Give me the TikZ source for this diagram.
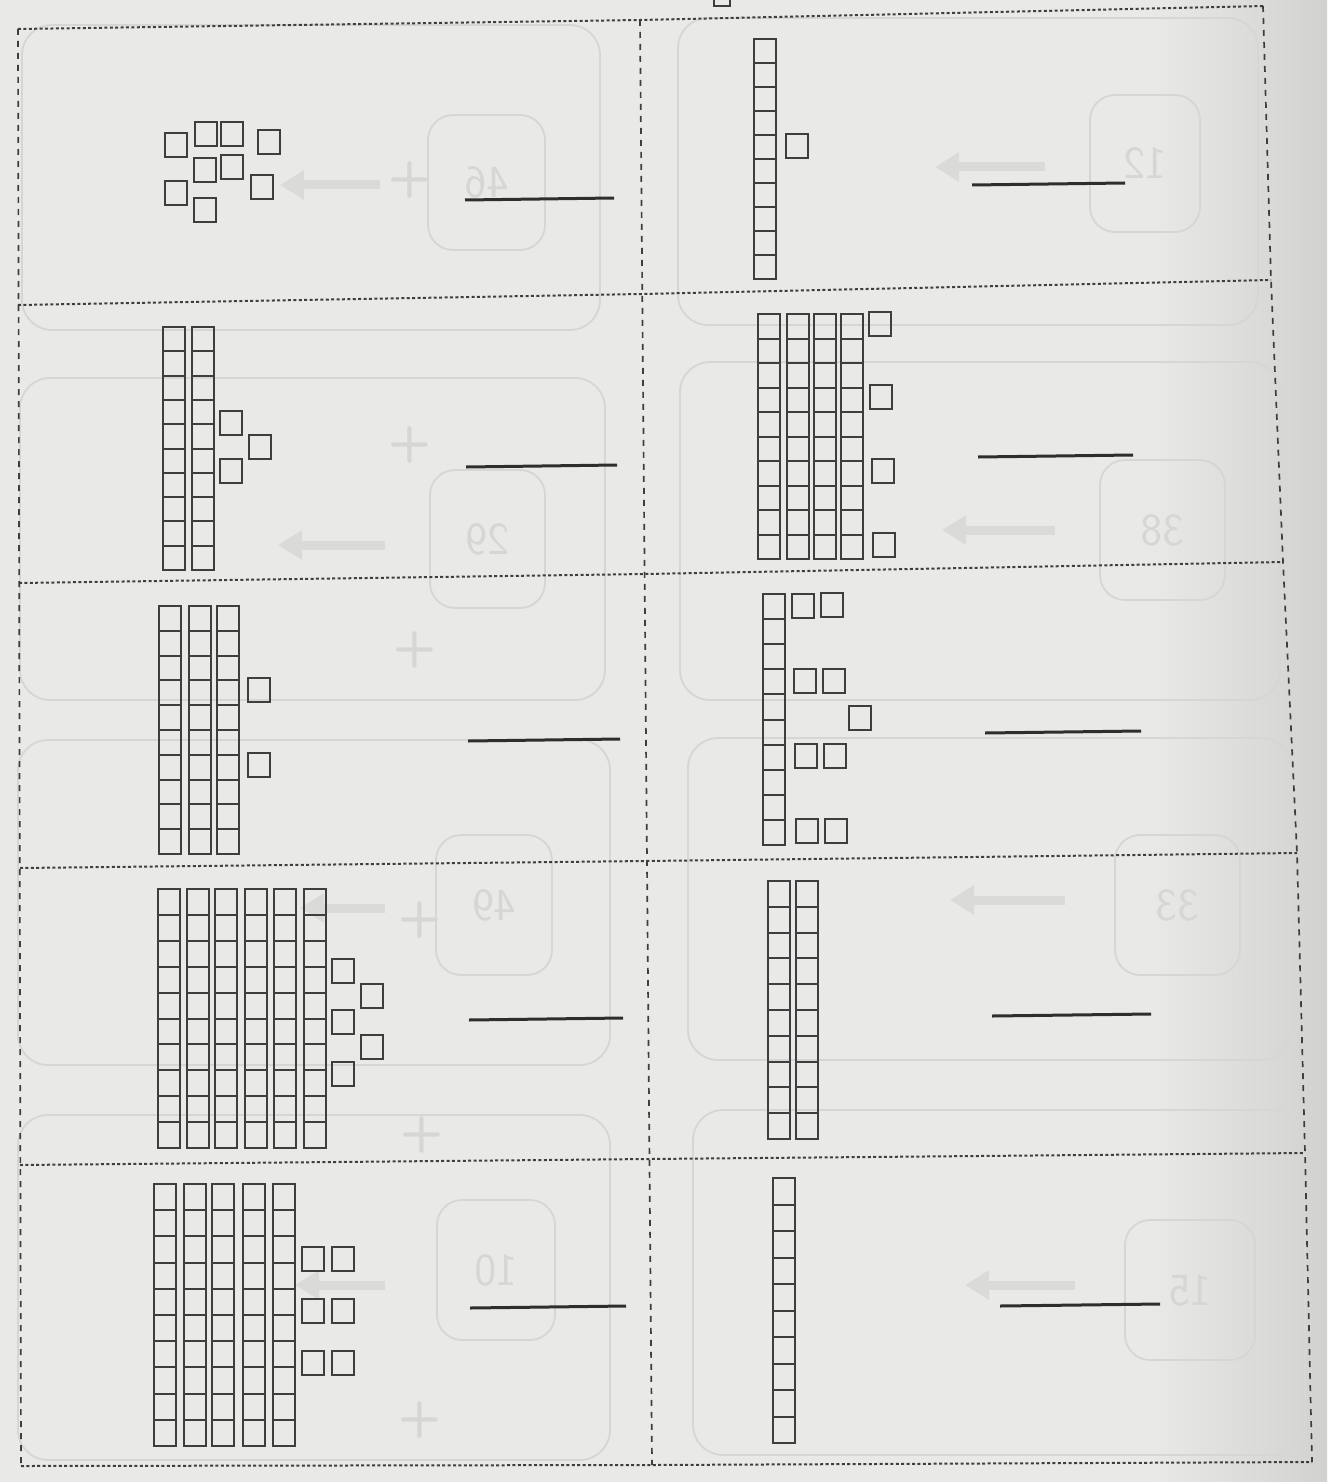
\documentclass[tikz,border=0pt]{standalone}
\usepackage{fontspec}
\usetikzlibrary{arrows.meta}
\definecolor{paper}{RGB}{233,233,231}
\definecolor{ink}{RGB}{62,62,62}
\definecolor{ghost}{RGB}{214,214,212}

\begin{document}
\begin{tikzpicture}[
  x=1pt, y=-1pt,
  unit/.style={draw=ink, line width=2pt, minimum width=22pt, minimum height=24pt, inner sep=0pt, anchor=north west},
  cutrow/.style={draw=ink, line width=2pt, dash pattern=on 3pt off 2.4pt},
  cutcol/.style={draw=ink, line width=1.7pt, dash pattern=on 6pt off 6pt},
  answer/.style={draw=black!82, line width=3pt},
  ghost/.style={draw=ghost, line width=1.8pt},
  ghostarrow/.style={draw=ghost!80!paper, line width=9pt, -{Triangle[length=24pt, width=28pt]}},
  ghostnum/.style={text=ghost, font=\sffamily\fontsize{46}{46}\selectfont, inner sep=0pt}
]
  \useasboundingbox (0,0) rectangle (1327,1482);
  \fill[paper] (0,0) rectangle (1327,1482);
  \shade[left color=paper, right color=paper!90!black] (1150,0) rectangle (1327,1482);

  % Show-through from the back of the sheet.
  \draw[ghost, rounded corners=30pt] (22,25) rectangle (600,330);
  \draw[ghost, rounded corners=30pt] (678,18) rectangle (1258,325);
  \draw[ghost, rounded corners=30pt] (20,378) rectangle (605,700);
  \draw[ghost, rounded corners=30pt] (680,362) rectangle (1280,700);
  \draw[ghost, rounded corners=30pt] (18,740) rectangle (610,1065);
  \draw[ghost, rounded corners=30pt] (688,738) rectangle (1292,1060);
  \draw[ghost, rounded corners=30pt] (18,1115) rectangle (610,1460);
  \draw[ghost, rounded corners=30pt] (693,1110) rectangle (1305,1455);

  \foreach \n/\xa/\ya/\xb/\yb in {46/428/115/545/250, 12/1090/95/1200/232,
      29/430/470/545/608, 38/1100/460/1225/600, 49/436/835/552/975,
      33/1115/835/1240/975, 10/437/1200/555/1340, 15/1125/1220/1255/1360} {
    \draw[ghost, rounded corners=25pt] (\xa,\ya) rectangle (\xb,\yb);
    \node[ghostnum] (num\n) at ({(\xa+\xb)/2},{(\ya+\yb)/2}) {\reflectbox{\n}};
  }

  \foreach \xa/\xb/\y in {380/280/185, 1045/935/167, 385/278/545, 1055/942/530,
      385/300/908, 1065/950/900, 1075/965/1285, 385/295/1285} {
    \coordinate (arrS\xa) at (\xa,\y);
    \coordinate (arrE\xa) at (\xb,\y);
    \draw[ghostarrow] (arrS\xa) -- (arrE\xa);
  }

  \foreach \x/\y in {410/180, 410/445, 415/650, 420/920, 422/1135, 420/1420} {
    \node[ghostnum, font=\sffamily\bfseries\fontsize{50}{50}\selectfont] (plus\y) at (\x,\y) {+};
  }

  % Cutting lines.
  \coordinate (l0) at (18,29);   \coordinate (m0) at (640,20);  \coordinate (r0) at (1263,6);
  \coordinate (l1) at (18,305);  \coordinate (m1) at (642,294); \coordinate (r1) at (1271,280);
  \coordinate (l2) at (19,583);  \coordinate (m2) at (645,574); \coordinate (r2) at (1283,562);
  \coordinate (l3) at (20,868);  \coordinate (m3) at (647,861); \coordinate (r3) at (1297,853);
  \coordinate (l4) at (20,1165); \coordinate (m4) at (650,1159); \coordinate (r4) at (1305,1153);
  \coordinate (l5) at (21,1466); \coordinate (m5) at (652,1465); \coordinate (r5) at (1312,1462);

  \foreach \i in {0,...,5} {
    \draw[cutrow] (l\i) -- (m\i) -- (r\i);
  }
  \draw[cutcol] (l0) -- (l5);
  \draw[cutcol] (m0) -- (m5);
  \draw[cutcol] (r0) -- (r1) -- (r2) -- (r3) -- (r4) -- (r5);

  % Tens: columns of ten units.
  \foreach \x/\y/\h in {753/38/24,
      162/326/24.3, 191/326/24.3,
      757/313/24.5, 786/313/24.5, 813/313/24.5, 840/313/24.5,
      158/605/24.8, 188/605/24.8, 216/605/24.8,
      762/593/25.1,
      157/888/25.9, 186/888/25.9, 214/888/25.9, 244/888/25.9, 273/888/25.9, 303/888/25.9,
      767/880/25.8, 795/880/25.8,
      153/1183/26.2, 183/1183/26.2, 211/1183/26.2, 242/1183/26.2, 272/1183/26.2,
      772/1177/26.5} {
    \foreach \k in {0,...,9} {
      \node[unit, minimum height=\h*1pt] (rod\x-\y-\k) at (\x,{\y+\k*\h}) {};
    }
  }

  % Ones.
  \foreach \x/\y in {164/132, 194/121, 220/121, 257/129, 193/157, 220/154, 164/180, 250/174, 193/197,
      785/133,
      219/410, 248/434, 219/458,
      868/311, 869/384, 871/458, 872/532,
      247/677, 247/752,
      791/593, 820/592, 793/668, 822/668, 848/705, 794/743, 823/743, 795/818, 824/818,
      331/958, 360/983, 331/1009, 360/1034, 331/1061,
      301/1246, 331/1246, 301/1298, 331/1298, 301/1350, 331/1350} {
    \node[unit] (one\x-\y) at (\x,\y) {};
  }
  \node[unit, minimum width=16pt] (topone) at (713,-19) {};

  % Answer lines.
  \foreach \n/\xa/\ya/\xb/\yb in {1/465/200/614/198, 2/972/185/1125/183,
      3/466/467/617/465, 4/978/457/1133/455, 5/468/741/620/739, 6/985/733/1141/731,
      7/469/1020/623/1018, 8/992/1016/1151/1014, 9/470/1308/626/1306, 10/1000/1306/1160/1304} {
    \coordinate (ans\n a) at (\xa,\ya);
    \coordinate (ans\n b) at (\xb,\yb);
    \draw[answer] (ans\n a) -- (ans\n b);
  }
\end{tikzpicture}
\end{document}
